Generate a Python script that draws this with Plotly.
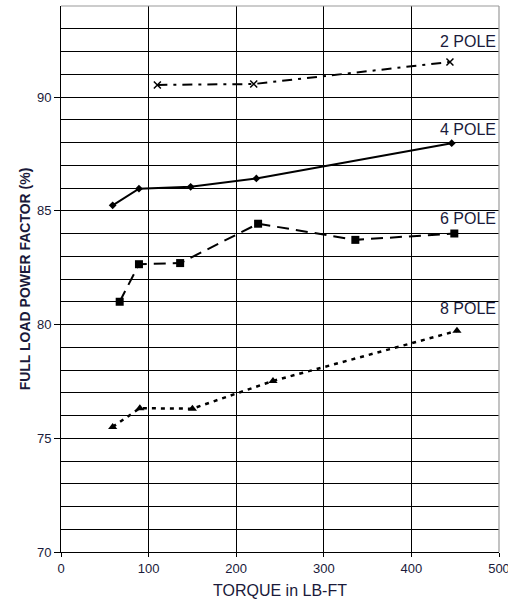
import plotly.graph_objects as go

# Data
pole2_x = [110, 220, 444]
pole2_y = [90.53, 90.57, 91.54]
pole4_x = [59, 89, 148, 223, 446]
pole4_y = [85.24, 85.97, 86.05, 86.42, 87.97]
pole6_x = [67, 89, 136, 225, 336, 449]
pole6_y = [81.0, 82.65, 82.7, 84.43, 83.72, 84.0]
pole8_x = [59, 90, 150, 242, 452]
pole8_y = [75.5, 76.32, 76.3, 77.52, 79.72]

labels = ["2 POLE", "4 POLE", "6 POLE", "8 POLE"]
label_y = [92.42, 88.55, 84.67, 80.72]

x_ticks = [0, 100, 200, 300, 400, 500]
y_ticks = [70, 75, 80, 85, 90]

fig = go.Figure()
fig.add_trace(go.Scatter(x=pole2_x, y=pole2_y, mode="lines+markers",
                         line=dict(color="black", width=2, dash="10px,6px,3px,6px"),
                         marker=dict(symbol="x-thin-open", size=7, color="black",
                                     line=dict(width=1.5, color="black"))))
fig.add_trace(go.Scatter(x=pole4_x, y=pole4_y, mode="lines+markers",
                         line=dict(color="black", width=2),
                         marker=dict(symbol="diamond", size=6, color="black")))
fig.add_trace(go.Scatter(x=pole6_x, y=pole6_y, mode="lines+markers",
                         line=dict(color="black", width=2, dash="12px,7px"),
                         marker=dict(symbol="square", size=8, color="black")))
fig.add_trace(go.Scatter(x=pole8_x, y=pole8_y, mode="lines+markers",
                         line=dict(color="black", width=2.5, dash="4px,5px"),
                         marker=dict(symbol="triangle-up", size=8, color="black")))

for t, yy in zip(labels, label_y):
    fig.add_annotation(x=1, xref="paper", y=yy, yref="y", text=t, showarrow=False,
                       xanchor="right", yanchor="middle", xshift=-1,
                       font=dict(family="Liberation Sans, Arial", size=16, color="#1a1a3a"))

# lighter top and right frame, as in the reference
fig.add_shape(type="line", xref="paper", yref="paper", x0=1, x1=1, y0=0, y1=1,
              line=dict(color="#9a9a9a", width=1.2), layer="above")
fig.add_shape(type="line", xref="paper", yref="paper", x0=0, x1=1, y0=1, y1=1,
              line=dict(color="#9a9a9a", width=1.2), layer="above")

fig.update_layout(
    width=508, height=605,
    margin=dict(l=61, r=9, t=6, b=53),
    plot_bgcolor="white", paper_bgcolor="white",
    showlegend=False,
    font=dict(family="Liberation Sans, Arial", size=13, color="#1a1a3a"),
)
fig.update_xaxes(range=[0, 500], tickvals=x_ticks, showgrid=True, gridcolor="black",
                 gridwidth=1, showline=True, linecolor="black", linewidth=1, mirror=False,
                 ticks="outside", ticklen=4, tickcolor="black", zeroline=False,
                 automargin=False, ticklabeloverflow="allow",
                 title=dict(text="TORQUE in LB-FT", font=dict(size=16), standoff=10))
fig.update_yaxes(range=[70, 94], tickvals=y_ticks, showgrid=True, gridcolor="black",
                 gridwidth=1, showline=True, linecolor="black", linewidth=1, mirror=False,
                 ticks="outside", ticklen=6, tickcolor="black", zeroline=False,
                 automargin=False,
                 minor=dict(dtick=1, showgrid=True, gridcolor="black", gridwidth=1),
                 title=dict(text="<b>FULL LOAD POWER FACTOR (%)</b>", font=dict(size=14), standoff=3))

fig.write_html("out.html", config={"displayModeBar": False},
               post_script="document.body.style.margin='0';document.body.style.overflow='hidden';")
